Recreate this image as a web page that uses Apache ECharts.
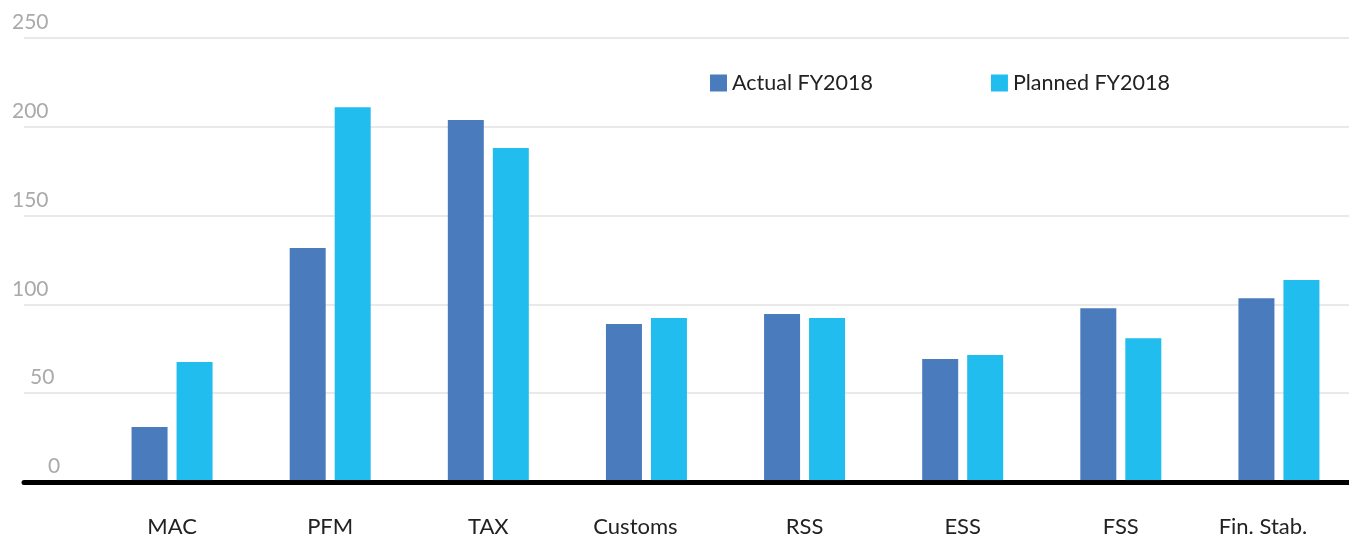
<!DOCTYPE html>
<html>
<head>
<meta charset="utf-8">
<script src="https://cdn.jsdelivr.net/npm/echarts@6/dist/echarts.min.js"></script>
<style>
  html, body { margin: 0; padding: 0; background: #fff; }
  #chart { width: 1349px; height: 537px; }
</style>
</head>
<body>
<div id="chart"></div>
<script>
var categories = ['MAC', 'PFM', 'TAX', 'Customs', 'RSS', 'ESS', 'FSS', 'Fin. Stab.'];
var actualFY2018 = [31, 131.8, 203.8, 89, 94.6, 69.3, 97.8, 103.4];
var plannedFY2018 = [67.6, 211, 188, 92.3, 92.3, 71.5, 80.9, 113.7];
var yTicks = [0, 50, 100, 150, 200, 250];

var font = 'Lato';
var myChart = echarts.init(document.getElementById('chart'));

var option = {
  backgroundColor: '#fff',
  animation: false,
  textStyle: { fontFamily: font },
  legend: {
    left: 705,
    top: 67,
    itemWidth: 17,
    itemHeight: 17,
    itemGap: 118,
    icon: 'rect',
    textStyle: { color: '#222', fontSize: 21.5, fontFamily: font },
    data: ['Actual FY2018', 'Planned FY2018']
  },
  grid: [
    // background grid: gridlines, y labels, thick baseline
    { left: 24, right: 0, top: 38, bottom: 55, outerBoundsMode: 'none' },
    // bars (category band runs a little past the right edge)
    { left: 93, width: 1265, top: 38, bottom: 55, outerBoundsMode: 'none' }
  ],
  xAxis: [
    {
      gridIndex: 0,
      type: 'value',
      min: 0, max: 1,
      z: 5,
      axisLine: { show: true, onZero: false, lineStyle: { color: '#000', width: 5 } },
      axisTick: { show: false },
      axisLabel: { show: false },
      splitLine: { show: false }
    },
    {
      gridIndex: 1,
      type: 'category',
      data: categories,
      axisLine: { show: false },
      axisTick: { show: false },
      axisLabel: {
        margin: 34,
        color: '#222',
        fontSize: 22,
        fontFamily: font,
        formatter: function (v) {
          if (v === 'Customs') return '{c|' + v + '}';
          if (v === 'Fin. Stab.') return '{f|' + v + '}';
          return v;
        },
        rich: {
          c: { fontSize: 22, color: '#222', fontFamily: font, padding: [0, 22, 0, 0] },
          f: { fontSize: 22, color: '#222', fontFamily: font, padding: [0, 32, 0, 0] }
        }
      }
    }
  ],
  yAxis: [
    {
      gridIndex: 0,
      type: 'value',
      min: 0,
      max: 250,
      interval: 50,
      axisLine: { show: false },
      axisTick: { show: false },
      splitLine: { lineStyle: { color: '#e2e2e2', width: 1.5 } },
      axisLabel: {
        align: 'left',
        verticalAlign: 'bottom',
        margin: 12,
        formatter: function (v) {
          if (yTicks.indexOf(v) < 0) return '';
          if (v === 0) return '{z|0}';
          if (v === 50) return '{f|50}';
          return '{n|' + v + '}';
        },
        rich: {
          n: { color: '#aaa', fontSize: 21, fontFamily: font, padding: [0, 0, 5, 0] },
          f: { color: '#aaa', fontSize: 21, fontFamily: font, padding: [0, 0, 5, 18] },
          z: { color: '#aaa', fontSize: 21, fontFamily: font, padding: [0, 0, 5, 36] }
        }
      }
    },
    {
      gridIndex: 1,
      type: 'value',
      min: 0,
      max: 250,
      interval: 50,
      show: false,
      splitLine: { show: false }
    }
  ],
  series: [
    {
      name: 'Actual FY2018',
      type: 'bar',
      xAxisIndex: 1,
      yAxisIndex: 1,
      barWidth: 36,
      barGap: '25%',
      itemStyle: { color: '#4a7bbd' },
      data: actualFY2018
    },
    {
      name: 'Planned FY2018',
      type: 'bar',
      xAxisIndex: 1,
      yAxisIndex: 1,
      barWidth: 36,
      barGap: '25%',
      itemStyle: { color: '#21bdee' },
      data: plannedFY2018
    }
  ]
};

myChart.setOption(option);
</script>
</body>
</html>
